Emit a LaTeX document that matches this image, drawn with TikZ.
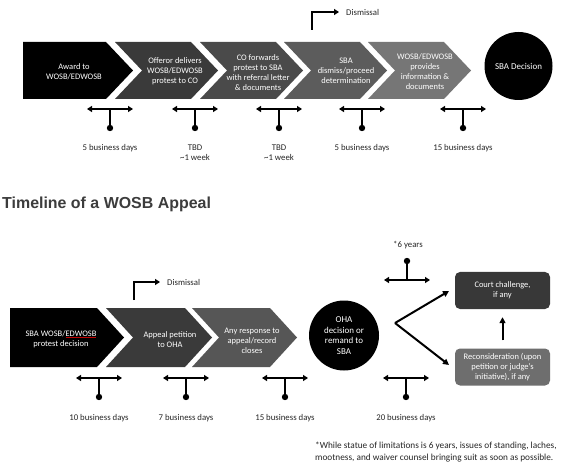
\documentclass[tikz,border=0pt]{standalone}
\usepackage{fontspec}
\setmainfont{Carlito}
\newfontfamily\titlefont{Liberation Sans}
\usetikzlibrary{arrows.meta}
\definecolor{chA}{HTML}{000000}
\definecolor{chB}{HTML}{3A3A3A}
\definecolor{chC}{HTML}{4A4A4A}
\definecolor{chD}{HTML}{5C5C5C}
\definecolor{chE}{HTML}{767676}
\definecolor{chF}{HTML}{565656}
\definecolor{courtc}{HTML}{383838}
\definecolor{reconc}{HTML}{6E6E6E}
\definecolor{titlec}{HTML}{3C3C3C}
\definecolor{txtc}{HTML}{262626}
\definecolor{spellc}{HTML}{C00000}
\newcommand\chevN[5]{\fill[#5] (#1,#3) -- ({#2-27},#3) -- (#2,{(#3+#4)/2}) -- ({#2-27},#4) -- (#1,#4) -- ({#1+27},{(#3+#4)/2}) -- cycle;}
\newcommand\chevF[5]{\fill[#5] (#1,#3) -- ({#2-27},#3) -- (#2,{(#3+#4)/2}) -- ({#2-27},#4) -- (#1,#4) -- cycle;}
\newcommand\tmark[3]{%
  \coordinate (#3a) at ({#1-23},#2);
  \coordinate (#3b) at ({#1+23},#2);
  \coordinate (#3c) at (#1,#2);
  \coordinate (#3d) at (#1,{#2+19});
  \draw[dblarr] (#3a) -- (#3b);
  \draw[stem] (#3c) -- (#3d);
  \fill (#3d) circle (3.2);}
\newcommand\tmarkup[3]{%
  \coordinate (#3a) at ({#1-23},#2);
  \coordinate (#3b) at ({#1+23},#2);
  \coordinate (#3c) at (#1,#2);
  \coordinate (#3d) at (#1,{#2-19});
  \draw[dblarr] (#3a) -- (#3b);
  \draw[stem] (#3c) -- (#3d);
  \fill (#3d) circle (3.2);}
\newcommand\spellul[1]{\setbox0\hbox{#1}\rlap{\color{spellc}\rule[-1.8pt]{\wd0}{0.7pt}}\box0}
\tikzset{
  chtext/.style={text=white, align=center, inner sep=0pt},
  lbl/.style={text=txtc, align=center, inner sep=0pt, font=\fontsize{8.8}{10.5}\selectfont},
  dblarr/.style={line width=1.8bp, {Triangle[length=5bp,width=6bp]}-{Triangle[length=5bp,width=6bp]}},
  stem/.style={line width=1.8bp},
  onearr/.style={line width=1.8bp, -{Triangle[length=5bp,width=6bp]}},
  bigarr/.style={line width=2bp, -{Triangle[length=6bp,width=6bp]}},
  boxsty/.style={rounded corners=5bp, minimum width=95bp, minimum height=37bp, text=white, align=center, inner sep=0pt},
}
\begin{document}
\begin{tikzpicture}[x=1bp,y=-1bp,font=\fontsize{8.5}{10}\selectfont]
\useasboundingbox (0,0) rectangle (561,467);
\fill[white] (0,0) rectangle (561,467);

% ---------- top row ----------
\chevF{23}{133}{42}{99}{chA}
\chevN{115}{218}{42}{99}{chB}
\chevN{200}{303}{42}{99}{chC}
\chevN{284}{387}{42}{99}{chD}
\chevN{368}{471}{42}{99}{chE}
\node[chtext] (t1) at (74,72) {Award to\\WOSB/EDWOSB};
\node[chtext] (t2) at (175,71.5) {Offeror delivers\\WOSB/EDWOSB\\protest to CO};
\node[chtext] (t3) at (258,73) {CO forwards\\protest to SBA\\with referral letter\\\& documents};
\node[chtext] (t4) at (346,71) {SBA\\dismiss/proceed\\determination};
\node[chtext] (t5) at (425,72) {WOSB/EDWOSB\\provides\\information \&\\documents};
\node[circle, fill=black, minimum size=68bp, inner sep=0pt, text=white, font=\fontsize{9}{11}\selectfont] (sbad) at (518.5,66) {SBA Decision};

\coordinate (d1s) at (312,30);
\coordinate (d1e) at (339,12);
\draw[onearr] (d1s) |- (d1e);
\node[lbl, anchor=west] (dis1) at (346,12) {Dismissal};

\tmark{110}{109}{ma}
\tmark{195}{109}{mb}
\tmark{279}{109}{mc}
\tmark{362}{109}{md}
\tmark{463}{109}{me}
\node[lbl] (la) at (110,148) {5 business days};
\node[lbl] (lb) at (195,152.5) {TBD\\\textasciitilde1 week};
\node[lbl] (lc) at (279,152.5) {TBD\\\textasciitilde1 week};
\node[lbl] (ld) at (362,148) {5 business days};
\node[lbl] (le) at (463,148) {15 business days};

% ---------- title ----------
\node[anchor=west, inner sep=0pt, text=titlec, font=\titlefont\bfseries\fontsize{16}{19}\selectfont] (title) at (2,204) {Timeline of a WOSB Appeal};

% ---------- bottom row ----------
\chevF{10}{124}{308}{367}{chA}
\chevN{106}{212}{308}{367}{chB}
\chevN{192}{297}{308}{367}{chF}
\node[chtext] (b1) at (61,339) {SBA WOSB/\spellul{EDWOSB}\\protest decision};
\node[chtext] (b2) at (170,340) {Appeal petition\\to OHA};
\node[chtext] (b3) at (252,341) {Any response to\\appeal/record\\closes};
\node[circle, fill=black, minimum size=70bp, inner sep=0pt, text=white, align=center, font=\fontsize{9}{10.5}\selectfont] (oha) at (344,335.5) {OHA\\decision or\\remand to\\SBA};

\coordinate (d2s) at (134,300);
\coordinate (d2e) at (160,282);
\draw[onearr] (d2s) |- (d2e);
\node[lbl, anchor=west] (dis2) at (167,282) {Dismissal};

\tmark{99}{378}{na}
\tmark{186}{378}{nb}
\tmark{285}{378}{nc}
\tmark{406}{378}{nd}
\node[lbl] (ka) at (99,418) {10 business days};
\node[lbl] (kb) at (186,418) {7 business days};
\node[lbl] (kc) at (285,418) {15 business days};
\node[lbl] (kd) at (406,418) {20 business days};

\tmarkup{407}{280}{nu}
\node[lbl] (ku) at (408,245) {*6 years};

\node[boxsty, fill=courtc] (court) at (502.5,290.5) {Court challenge,\\if any};
\node[boxsty, fill=reconc] (recon) at (502.5,367) {Reconsideration (upon\\petition or judge's\\initiative), if any};

\coordinate (apex) at (395,323);
\coordinate (vup) at (449,291);
\coordinate (vdn) at (449,365);
\draw[bigarr] (apex) -- (vup);
\draw[bigarr] (apex) -- (vdn);
\draw[bigarr, shorten <=8bp, shorten >=8bp] (recon.north) -- (court.south);

\node[lbl, anchor=north west, align=left, font=\fontsize{9.3}{12}\selectfont] (foot) at (315,442) {*While statue of limitations is 6 years, issues of standing, laches,\\mootness, and waiver counsel bringing suit as soon as possible.};
\end{tikzpicture}
\end{document}
